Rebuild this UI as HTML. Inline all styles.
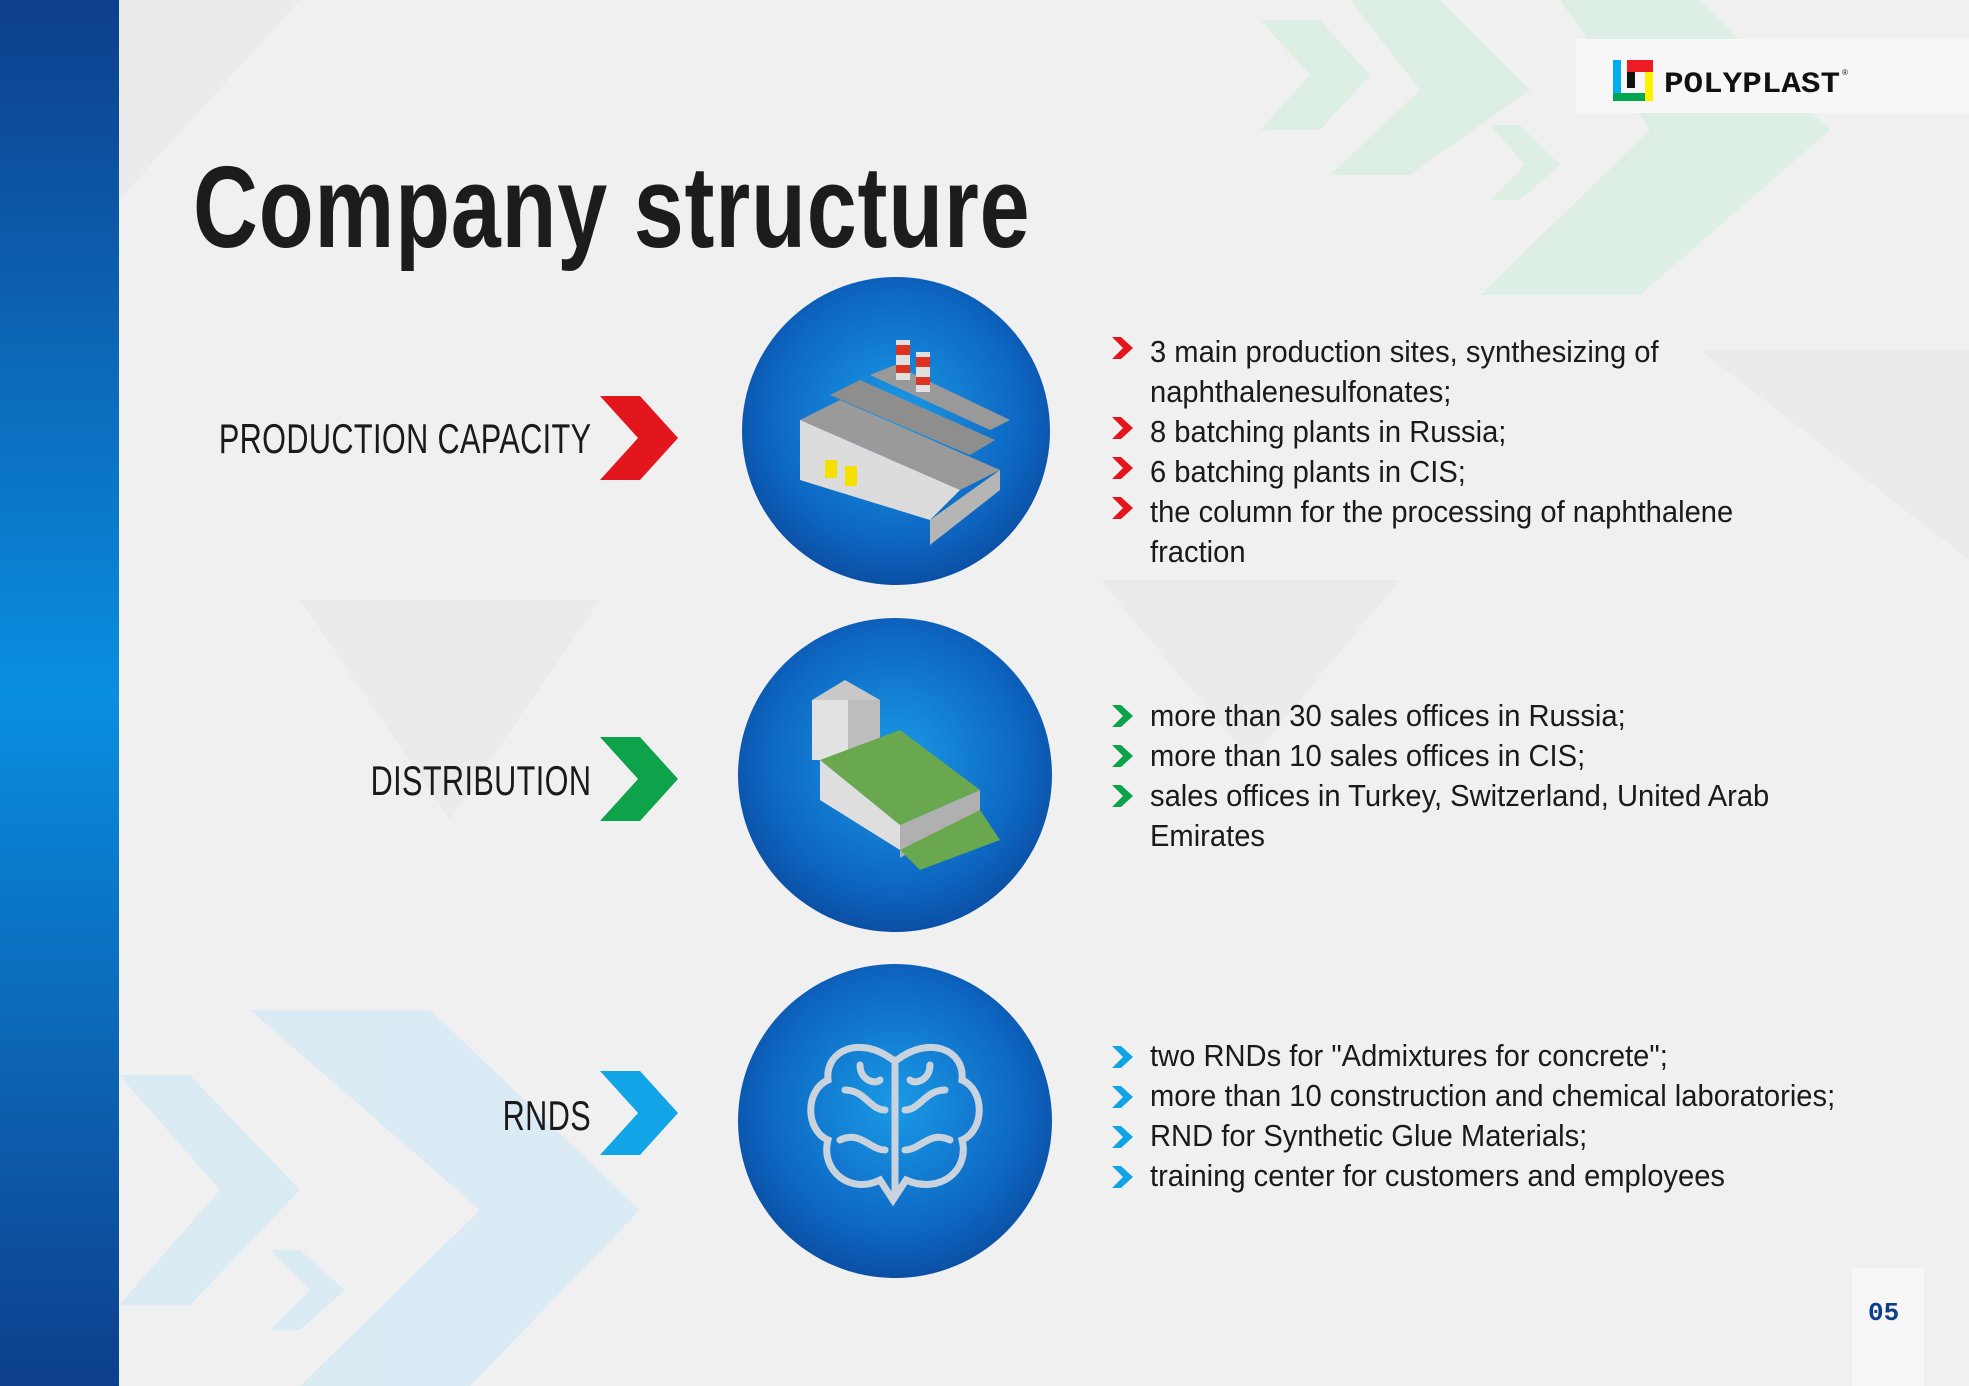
<!DOCTYPE html>
<html><head><meta charset="utf-8"><style>
html,body{margin:0;padding:0}
body{width:1969px;height:1386px;position:relative;overflow:hidden;background:#f0f0f0;font-family:"Liberation Sans",sans-serif}
.abs{position:absolute}
.lbl{position:absolute;right:1378px;font-size:42px;color:#1a1a1a;white-space:nowrap;transform:scaleX(0.73);transform-origin:right center;letter-spacing:0.5px}
.tx{position:absolute;left:1150px;font-size:31px;color:#1a1a1a;white-space:nowrap;transform:scaleX(0.94);transform-origin:left center;line-height:40px}
.circ{position:absolute;border-radius:50%;background:radial-gradient(circle at 50% 45%,#1a9ae6 0%,#0d66c2 55%,#0a3f8f 88%,#1270c4 95%,#0b4aa0 100%)}
</style></head><body>
<svg class="abs" style="left:0;top:0" width="1969" height="1386">
 <defs><linearGradient id="lb" x1="0" y1="0" x2="0" y2="1"><stop offset="0" stop-color="#0d3f8c"/><stop offset="0.5" stop-color="#0a8ee0"/><stop offset="1" stop-color="#0d3f8c"/></linearGradient></defs>
 <rect x="0" y="0" width="119" height="1386" fill="url(#lb)"/>
 <g fill="#ebebeb"><polygon points="119,0 300,0 119,200"/><polygon points="1100,580 1400,580 1250,760"/><polygon points="1700,350 1969,350 1969,560"/><polygon points="300,600 600,600 450,820"/></g>
 <g fill="#dceee4" opacity="0.9"><polygon points="1260,20 1320,20 1370,75 1320,130 1260,130 1310,75"/><polygon points="1350,0 1440,0 1530,90 1410,175 1330,175 1420,90"/><polygon points="1490,125 1520,125 1560,165 1520,200 1490,200 1525,165"/><polygon points="1560,0 1700,0 1830,130 1640,295 1480,295 1650,130"/></g>
 <g fill="#d6eaf6" opacity="0.8"><polygon points="250,1010 430,1010 640,1210 470,1386 300,1386 480,1210"/><polygon points="119,1075 190,1075 300,1190 190,1305 119,1305 220,1190"/><polygon points="270,1250 300,1250 345,1290 300,1330 270,1330 310,1290"/></g>
 <rect x="1576" y="39" width="393" height="74" fill="#f7f7f7"/>
 <rect x="1613" y="60" width="8" height="41" fill="#00aeef"/>
 <rect x="1613" y="93" width="32" height="8" fill="#00a650"/>
 <rect x="1645" y="72" width="8" height="29" fill="#fff200"/>
 <rect x="1627" y="60" width="26" height="12" fill="#ed1c24"/>
 <rect x="1627" y="72" width="8" height="16" fill="#111"/>
 <text x="1664" y="92" font-family="Liberation Mono" font-weight="bold" font-size="30" fill="#111" textLength="176" lengthAdjust="spacingAndGlyphs">POLYPLAST</text>
 <text x="1842" y="75" font-size="8" fill="#111">®</text>
 <rect x="1852" y="1268" width="72" height="118" fill="#f7f7f7"/>
 <text x="1868" y="1320" font-family="Liberation Mono" font-weight="bold" font-size="26" fill="#0d3f8c">05</text>
 <polygon points="600,396 640,396 678,438 640,480 600,480 638,438" fill="#e3161e"/>
 <polygon points="600,737 640,737 678,779 640,821 600,821 638,779" fill="#0ea24a"/>
 <polygon points="600,1071 640,1071 678,1113 640,1155 600,1155 638,1113" fill="#11a4e6"/>
 <g fill="#e3161e"><polygon points="1112,337 1121,337 1133,348 1121,359 1112,359 1123,348"/><polygon points="1112,417 1121,417 1133,428 1121,439 1112,439 1123,428"/><polygon points="1112,457 1121,457 1133,468 1121,479 1112,479 1123,468"/><polygon points="1112,497 1121,497 1133,508 1121,519 1112,519 1123,508"/></g>
 <g fill="#0ea24a"><polygon points="1112,705 1121,705 1133,716 1121,727 1112,727 1123,716"/><polygon points="1112,745 1121,745 1133,756 1121,767 1112,767 1123,756"/><polygon points="1112,785 1121,785 1133,796 1121,807 1112,807 1123,796"/></g>
 <g fill="#11a4e6"><polygon points="1112,1046 1121,1046 1133,1057 1121,1068 1112,1068 1123,1057"/><polygon points="1112,1086 1121,1086 1133,1097 1121,1108 1112,1108 1123,1097"/><polygon points="1112,1126 1121,1126 1133,1137 1121,1148 1112,1148 1123,1137"/><polygon points="1112,1166 1121,1166 1133,1177 1121,1188 1112,1188 1123,1177"/></g>
</svg>
<div class="abs" style="left:193px;top:140px;font-size:116px;font-weight:bold;color:#1c1c1c;white-space:nowrap;transform:scaleX(0.775);transform-origin:left top;letter-spacing:1px">Company structure</div>
<div class="lbl" style="top:415px">PRODUCTION CAPACITY</div>
<div class="lbl" style="top:757px">DISTRIBUTION</div>
<div class="lbl" style="top:1092px">RNDS</div>
<div class="circ" style="left:742px;top:277px;width:308px;height:308px"></div>
<div class="circ" style="left:738px;top:618px;width:314px;height:314px"></div>
<div class="circ" style="left:738px;top:964px;width:314px;height:314px"></div>
<svg class="abs" style="left:0;top:0" width="1969" height="1386">
 <g>
  <polygon points="800,420 960,490 1000,470 840,400" fill="#9a9a9a"/>
  <polygon points="800,420 800,480 930,520 960,490" fill="#dcdcdc"/>
  <polygon points="930,520 1000,470 1000,490 930,545" fill="#b5b5b5"/>
  <polygon points="830,395 970,455 995,440 860,380" fill="#8e8e8e"/>
  <polygon points="870,375 990,430 1010,420 895,365" fill="#999"/>
  <rect x="896" y="340" width="14" height="40" fill="#e0e0e0"/><rect x="896" y="345" width="14" height="10" fill="#d32"/><rect x="896" y="365" width="14" height="8" fill="#d32"/>
  <rect x="916" y="352" width="14" height="40" fill="#e0e0e0"/><rect x="916" y="357" width="14" height="10" fill="#d32"/><rect x="916" y="377" width="14" height="8" fill="#d32"/>
  <rect x="825" y="460" width="12" height="18" fill="#f5e000"/><rect x="845" y="466" width="12" height="20" fill="#f5e000"/>
 </g>
 <g>
  <polygon points="812,700 845,680 880,700 848,720" fill="#c8c8c8"/>
  <rect x="812" y="700" width="36" height="60" fill="#e2e2e2"/><rect x="848" y="700" width="32" height="50" fill="#bdbdbd"/>
  <polygon points="820,760 900,730 980,790 900,825" fill="#6aa84f"/>
  <polygon points="820,760 820,800 900,850 900,825" fill="#dedede"/>
  <polygon points="900,825 980,790 980,810 900,858" fill="#b0b0b0"/>
  <polygon points="900,850 980,810 1000,840 920,870" fill="#6aa84f"/>
 </g>
 <g fill="none" stroke="#c9d3de" stroke-width="7" stroke-linecap="round">
  <path d="M893,1060 C860,1035 825,1050 828,1080 C805,1090 805,1130 828,1140 C820,1170 850,1195 880,1180 L893,1200 L906,1180 C940,1195 970,1170 962,1140 C985,1130 985,1090 962,1080 C965,1050 930,1035 897,1060 Z"/>
  <path d="M895,1065 V1195"/>
  <path d="M845,1090 C865,1090 870,1110 885,1110"/><path d="M945,1090 C925,1090 920,1110 905,1110"/>
  <path d="M840,1140 C860,1130 870,1150 885,1150"/><path d="M950,1140 C930,1130 920,1150 905,1150"/>
  <path d="M860,1065 C860,1080 875,1085 880,1080"/><path d="M930,1065 C930,1080 915,1085 910,1080"/>
 </g>
</svg>
<div class="tx" style="top:332px">3 main production sites, synthesizing of</div>
<div class="tx" style="top:372px">naphthalenesulfonates;</div>
<div class="tx" style="top:412px">8 batching plants in Russia;</div>
<div class="tx" style="top:452px">6 batching plants in CIS;</div>
<div class="tx" style="top:492px">the column for the processing of naphthalene</div>
<div class="tx" style="top:532px">fraction</div>
<div class="tx" style="top:696px">more than 30 sales offices in Russia;</div>
<div class="tx" style="top:736px">more than 10 sales offices in CIS;</div>
<div class="tx" style="top:776px">sales offices in Turkey, Switzerland, United Arab</div>
<div class="tx" style="top:816px">Emirates</div>
<div class="tx" style="top:1036px">two RNDs for "Admixtures for concrete";</div>
<div class="tx" style="top:1076px">more than 10 construction and chemical laboratories;</div>
<div class="tx" style="top:1116px">RND for Synthetic Glue Materials;</div>
<div class="tx" style="top:1156px">training center for customers and employees</div>
</body></html>
